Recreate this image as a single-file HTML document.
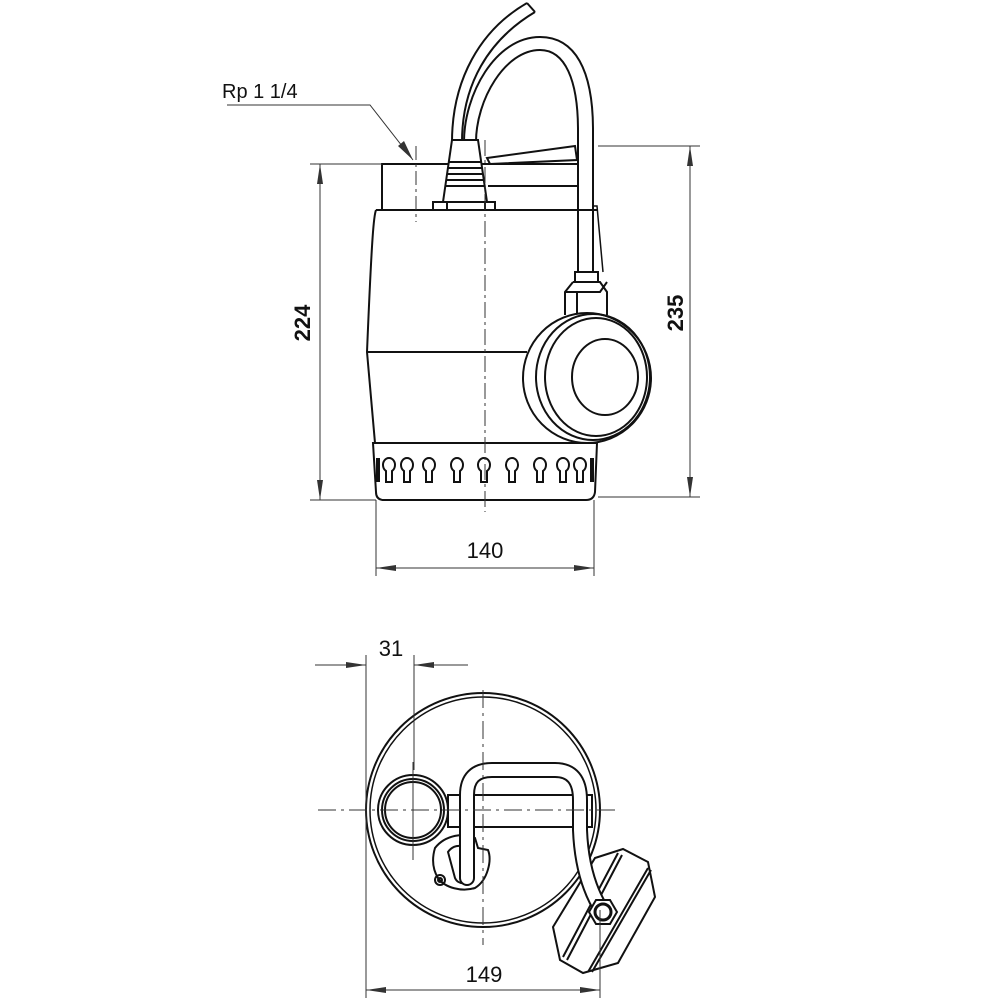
<!DOCTYPE html>
<html><head><meta charset="utf-8"><style>
html,body{margin:0;padding:0;background:#fff;}
svg{display:block;}
text{font-family:"Liberation Sans",sans-serif;fill:#111;}
</style></head><body>
<svg width="1002" height="1000" viewBox="0 0 1002 1000" xmlns="http://www.w3.org/2000/svg">
<defs>
<marker id="ar" viewBox="0 0 20 8" refX="20" refY="4" markerWidth="20" markerHeight="8" markerUnits="userSpaceOnUse" orient="auto">
<path d="M0,1 L20,4 L0,7 Z" fill="#333"/>
</marker>
<marker id="al" viewBox="0 0 20 8" refX="0" refY="4" markerWidth="20" markerHeight="8" markerUnits="userSpaceOnUse" orient="auto">
<path d="M20,1 L0,4 L20,7 Z" fill="#333"/>
</marker>
<path id="kh" d="M-3,482 V471 A6,7 0 1 1 3,471 V482 Z" fill="none" stroke="#111" stroke-width="2"/>
</defs>

<!-- ===== Side view ===== -->
<g fill="none" stroke="#111" stroke-width="2">
<path d="M382,210 V164 H578"/>
<path d="M488,186 H578 V210"/>
<path d="M487,158 L575,146 L577,160 L490,164 Z" fill="#fff"/>
<path d="M452,142 C452,80 480,30 527,3"/>
<path d="M462,142 C462,85 488,40 535,12"/>
<path d="M527,3 L535,12"/>
<path d="M464,142 C464,95 495,37 540,37 C575,37 593,70 593,130 V272"/>
<path d="M476,142 C476,100 505,50 540,50 C565,50 578,80 578,130 V272"/>
<path d="M452,140 H478 L487,202 H443 Z" fill="#fff"/>
<path d="M449,162 H481 M448,168 H482 M447,174 H483 M446,180 H484 M445,186 H485"/>
<rect x="433" y="202" width="62" height="8" fill="#fff"/>
<path d="M447,202 V210 M485,202 V210"/>
<path d="M376,210 H597 M376,210 C374,215 372,230 367,352 L375,443"/>
<path d="M367,352 H527"/>
<path d="M592,206 L597,206 L603,272" stroke-width="1.5"/>
<path d="M373,443 H597 L595,492 Q594,500 586,500 H384 Q376,500 376,492 Z"/>
<rect x="575" y="272" width="23" height="10" fill="#fff"/>
<path d="M573,282 H600 L607,292 V315 M573,282 L565,292 V315 M577,292 V315 M565,292 H600 L607,282"/>
<ellipse cx="587" cy="378" rx="64" ry="65" fill="#fff"/>
<ellipse cx="593" cy="377" rx="57" ry="63"/>
<ellipse cx="596" cy="377" rx="51" ry="59"/>
<ellipse cx="605" cy="377" rx="33" ry="38"/>
</g>
<g fill="none" stroke="#111" stroke-width="2">
<path d="M378,458 V482" stroke-width="4"/>
<path d="M592,458 V482" stroke-width="4"/>
</g>
<use href="#kh" x="389"/>
<use href="#kh" x="407"/>
<use href="#kh" x="429"/>
<use href="#kh" x="457"/>
<use href="#kh" x="484"/>
<use href="#kh" x="512"/>
<use href="#kh" x="540"/>
<use href="#kh" x="563"/>
<use href="#kh" x="580"/>
<g stroke="#333" stroke-width="1" fill="none">
<path d="M485,140 V512" stroke-dasharray="16,4,3,4"/>
<path d="M416,146 V222" stroke-dasharray="14,4,3,4"/>
</g>
<g stroke="#333" stroke-width="1" fill="none">
<path d="M310,164 H382"/>
<path d="M310,500 H376"/>
<path d="M320,164 V500" marker-start="url(#al)" marker-end="url(#ar)"/>
<path d="M598,146 H700"/>
<path d="M598,497 H700"/>
<path d="M690,146 V497" marker-start="url(#al)" marker-end="url(#ar)"/>
<path d="M376,500 V576 M594,500 V576"/>
<path d="M376,568 H594" marker-start="url(#al)" marker-end="url(#ar)"/>
<path d="M227,105 H370 L413,160" />
</g>
<path d="M413,160 L398,146 L404,141 Z" fill="#333"/>
<text x="222" y="98" font-size="20">Rp 1 1/4</text>
<text x="485" y="558" font-size="22" text-anchor="middle">140</text>
<text transform="translate(310,323) rotate(-90)" font-size="22" font-weight="bold" text-anchor="middle">224</text>
<text transform="translate(683,313) rotate(-90)" font-size="22" font-weight="bold" text-anchor="middle">235</text>

<!-- ===== Bottom view ===== -->
<g fill="none" stroke="#111" stroke-width="2">
<circle cx="483" cy="810" r="117"/>
<circle cx="483" cy="810" r="113" stroke-width="1.5"/>
<rect x="448" y="795" width="144" height="32"/>
<rect x="585" y="795" width="7" height="32"/>
<circle cx="413" cy="810" r="35" fill="#fff"/>
<circle cx="413" cy="810" r="31"/>
<circle cx="413" cy="810" r="28"/>
<path d="M435,848 C445,835 465,832 475,838 L478,848 L488,850 C492,860 488,880 475,888 C462,892 445,888 438,878 C432,868 432,858 435,848 Z" fill="#fff"/>
<path d="M448,852 C455,842 468,845 470,855 L472,878 C468,885 458,885 455,878 Z"/>
<circle cx="440" cy="880" r="5"/>
<circle cx="440" cy="880" r="2"/>
</g>
<g fill="#fff" stroke="#111" stroke-width="2">
<path d="M553,927 L595,858 L623,849 L648,862 L655,897 L618,963 L583,973 L560,960 Z"/>
<path d="M563,957 L618,853 M567,960 L622,855 M588,972 L648,868 M592,972 L651,870" fill="none"/>
</g>
<path d="M467,878 V795 Q467,770 492,770 H555 Q580,770 580,800 V830 Q582,880 603,912" fill="none" stroke="#111" stroke-width="16" stroke-linecap="round"/>
<path d="M467,878 V795 Q467,770 492,770 H555 Q580,770 580,800 V830 Q582,880 603,912" fill="none" stroke="#fff" stroke-width="12" stroke-linecap="round"/>
<g fill="#fff" stroke="#111" stroke-width="2">
<polygon points="617,912 610,924 596,924 589,912 596,900 610,900"/>
<circle cx="603" cy="912" r="8" stroke-width="3"/>
</g>
<g stroke="#333" stroke-width="1" fill="none">
<path d="M318,810 H615" stroke-dasharray="18,5,3,5"/>
<path d="M483,690 V945" stroke-dasharray="18,5,3,5"/>
<path d="M413,762 V860"/>
</g>
<g stroke="#333" stroke-width="1" fill="none">
<path d="M366,655 V998 M600,910 V998 M414,655 V770"/>
<path d="M315,665 H366" marker-end="url(#ar)"/>
<path d="M468,665 H414" marker-end="url(#ar)"/>
<path d="M366,990 H600" marker-start="url(#al)" marker-end="url(#ar)"/>
</g>
<text x="391" y="656" font-size="22" text-anchor="middle">31</text>
<text x="484" y="982" font-size="22" text-anchor="middle">149</text>
</svg>
</body></html>
